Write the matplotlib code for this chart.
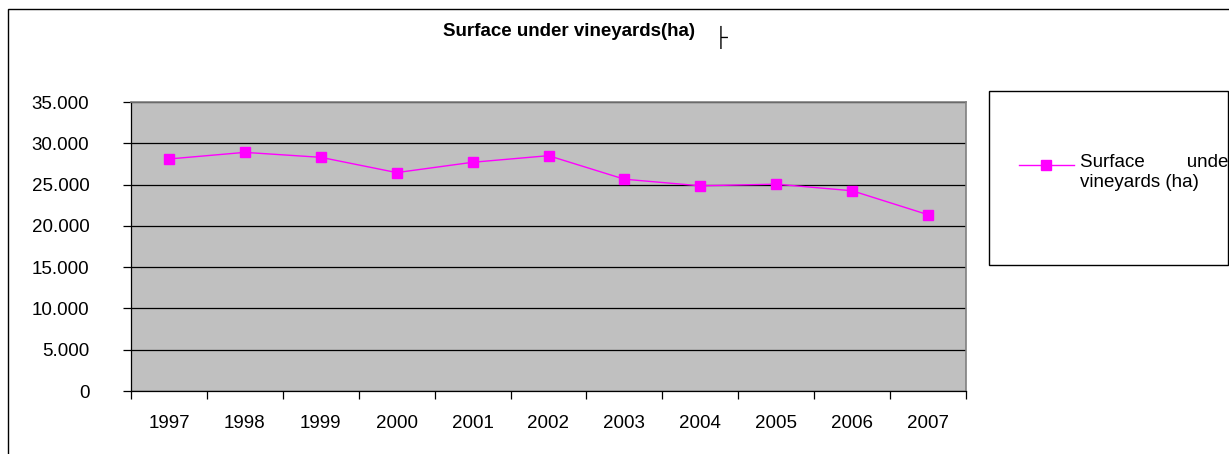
import matplotlib
matplotlib.use("Agg")
import matplotlib.pyplot as plt
from matplotlib.patches import Rectangle
from matplotlib.lines import Line2D

plt.rcParams['font.family'] = ['Liberation Sans', 'DejaVu Sans']

# data
years = ['1997', '1998', '1999', '2000', '2001', '2002',
         '2003', '2004', '2005', '2006', '2007']
surface = [28100, 28900, 28300, 26450, 27700, 28500,
           25650, 24850, 25050, 24250, 21350]
y_ticks = [0, 5000, 10000, 15000, 20000, 25000, 30000, 35000]
y_labels = ['0', '5.000', '10.000', '15.000', '20.000', '25.000', '30.000', '35.000']
series_name = 'Surface        under\nvineyards (ha)'
title = 'Surface under vineyards(ha)'

W, H = 1229, 454
fig = plt.figure(figsize=(W / 100, H / 100), dpi=100)

# outer chart border (cut by the picture edge on right and bottom)
fig.patches.append(Rectangle((8 / W, -0.2), 1.2, 1 - 9 / H + 0.2,
                             transform=fig.transFigure, fill=False,
                             edgecolor='black', linewidth=1.0))

ax = fig.add_axes([131 / W, 1 - 391 / H, (966 - 131) / W, (391 - 102) / H])
ax.set_facecolor('#c0c0c0')

x = list(range(len(years)))
ax.plot(x, surface, color='#ff00ff', linewidth=1.0, marker='s',
        markersize=7.5, markerfacecolor='#ff00ff', markeredgecolor='#ff00ff',
        zorder=3)

ax.set_xlim(-0.5, len(years) - 0.5)
ax.set_ylim(0, 35000)

# gridlines
ax.set_yticks(y_ticks)
ax.set_yticklabels(y_labels)
ax.yaxis.grid(True, color='black', linewidth=0.9)
ax.set_axisbelow(True)

# category labels at centres, tick marks at boundaries
ax.set_xticks(x)
ax.set_xticklabels(years)
ax.set_xticks([i - 0.5 for i in range(len(years) + 1)], minor=True)
ax.tick_params(axis='x', which='major', length=0, pad=17, labelsize=13.5)
ax.tick_params(axis='x', which='minor', length=6, width=0.9, direction='out')
ax.tick_params(axis='y', length=6, width=0.9, direction='out', pad=24,
               labelsize=13.5)

for side in ['top', 'right']:
    ax.spines[side].set_color('#808080')
    ax.spines[side].set_linewidth(1.2)
for side in ['left', 'bottom']:
    ax.spines[side].set_color('black')
    ax.spines[side].set_linewidth(0.9)

fig.text(569 / W, 1 - 32 / H, title, ha='center', va='center',
         fontsize=13.5, fontweight='bold')
# stray mark next to the title
fig.text(721 / W, 1 - 37 / H, '\u251c', ha='center', va='center', fontsize=14)

# legend box, drawn by hand so the key sits on the first text line
fig.patches.append(Rectangle((989 / W, 1 - 265 / H), (1228 - 989) / W, (265 - 91) / H,
                             transform=fig.transFigure, fill=False,
                             edgecolor='black', linewidth=1.0))
fig.add_artist(Line2D([1019 / W, 1074 / W], [1 - 165 / H, 1 - 165 / H],
                      transform=fig.transFigure, color='#ff00ff', linewidth=1.0))
fig.add_artist(Line2D([1046 / W], [1 - 165 / H], transform=fig.transFigure,
                      linestyle='none', marker='s', markersize=7.5,
                      markerfacecolor='#ff00ff', markeredgecolor='#ff00ff'))
fig.text(1080 / W, 1 - 172.5 / H, series_name, ha='left', va='center',
         fontsize=13.5, linespacing=1.3)

fig.savefig('out.png', dpi=100)
